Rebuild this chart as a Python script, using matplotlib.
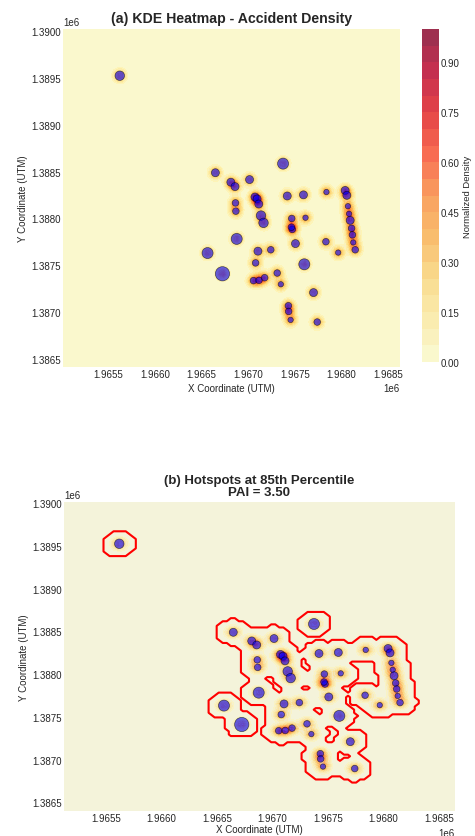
import numpy as np
import matplotlib.pyplot as plt
import seaborn as sns

sns.set_style("dark")
plt.rcParams["font.family"] = ["Liberation Sans", "DejaVu Sans"]

# accident locations (UTM metres)
acc_x = [1966647, 1966813, 1966858, 1967014, 1967374, 1967419, 1967593, 1967840, 1968041, 1968059,
         1966863, 1966867, 1967072, 1967095, 1967113, 1967137, 1967164, 1967467, 1967615, 1967473, 1967464,
         1967507, 1968071, 1968083, 1968095, 1968110, 1968119, 1968128, 1968149, 1967834, 1967966,
         1966876, 1966563, 1966723, 1967104, 1967242, 1967079, 1967602, 1967311, 1967056, 1967115,
         1967176, 1967350,
         1967701, 1967431, 1967434, 1967455, 1967741, 1965620]
acc_y = [1388488, 1388387, 1388340, 1388415, 1388585, 1388240, 1388252, 1388282, 1388299, 1388247,
         1388166, 1388078, 1388229, 1388209, 1388154, 1388031, 1387953, 1388000, 1388008, 1387883, 1387907,
         1387732, 1388131, 1388050, 1387980, 1387895, 1387825, 1387744, 1387666, 1387752, 1387636,
         1387782, 1387631, 1387410, 1387651, 1387666, 1387526, 1387511, 1387418, 1387337, 1387340,
         1387368, 1387298,
         1387209, 1387069, 1387008, 1386918, 1386895, 1389523]
severity = [2, 2, 2, 2, 3, 2, 2, 1, 2, 2,
            1.5, 1.5, 2, 2, 2, 2.5, 2.5, 1.5, 1, 1.5, 1.5,
            2, 1, 1, 2, 1.5, 1.5, 1, 1.5, 1.5, 1,
            3, 3, 4, 2, 1.5, 1.5, 3, 1.5, 1.5, 1.5, 1.5, 1,
            2, 1.5, 1.5, 1, 1.5, 2.5]

HOTSPOT_PCT = 85
PAI = 3.50

xlim_a = (1965010, 1968630)
ylim_a = (1386415, 1390021)
xlim_b = (1965122, 1968644)
ylim_b = (1386395, 1390012)

px = np.array(acc_x, dtype=float)
py = np.array(acc_y, dtype=float)
sizes = 6 * np.array(severity) ** 2 + 9

# gaussian KDE on a fairly coarse grid
bw = 40.0
gx = np.linspace(1964950, 1968700, 104)
gy = np.linspace(1386350, 1390050, 103)
GX, GY = np.meshgrid(gx, gy)
dens = np.exp(-((GX[None] - px[:, None, None]) ** 2 + (GY[None] - py[:, None, None]) ** 2)
              / (2 * bw ** 2)).sum(axis=0)
dens = dens / dens.max()
thr = np.percentile(dens, HOTSPOT_PCT)
hot = (dens >= thr).astype(float)

fig = plt.figure(figsize=(4.75, 8.37), dpi=100)
ax1 = fig.add_axes([0.1326, 0.5603, 0.7095, 0.4038])
cax = fig.add_axes([0.8884, 0.5663, 0.0358, 0.3978])
ax2 = fig.add_axes([0.1347, 0.0295, 0.8232, 0.3696])

# (a) KDE heatmap
cf = ax1.contourf(GX, GY, dens, levels=20, cmap="YlOrRd", alpha=0.8)
ax1.scatter(px, py, s=sizes, c="blue", alpha=0.6, edgecolors="black", linewidths=0.5, zorder=3)
ax1.set_xlim(*xlim_a)
ax1.set_ylim(*ylim_a)
ax1.set_title("(a) KDE Heatmap - Accident Density", fontsize=10.2, fontweight="bold", pad=5)
ax1.set_xlabel("X Coordinate (UTM)", fontsize=7, labelpad=3)
cb = fig.colorbar(cf, cax=cax)
cb.set_label("Normalized Density", fontsize=6.8, labelpad=2)
cb.outline.set_visible(False)
cb.ax.tick_params(labelsize=7, pad=1.5, length=0)

# (b) hotspots
ax2.contourf(GX, GY, dens, levels=20, cmap="YlOrRd", alpha=0.5)
ax2.contour(GX, GY, hot, levels=[0.5], colors="red", linewidths=1.5)
ax2.scatter(px, py, s=sizes, c="blue", alpha=0.6, edgecolors="black", linewidths=0.5, zorder=3)
ax2.set_xlim(*xlim_b)
ax2.set_ylim(*ylim_b)
ax2.set_title(f"(b) Hotspots at {HOTSPOT_PCT}th Percentile\nPAI = {PAI:.2f}",
              fontsize=9.5, fontweight="bold", pad=5, linespacing=1.0)
ax2.set_xlabel("X Coordinate (UTM)", fontsize=7, labelpad=0.5)

for ax in (ax1, ax2):
    ax.set_ylabel("Y Coordinate (UTM)", fontsize=7, labelpad=2)
    ax.tick_params(labelsize=7, pad=1.5, length=0)
    ax.xaxis.get_offset_text().set_fontsize(7)
    ax.yaxis.get_offset_text().set_fontsize(7)
    for s in ax.spines.values():
        s.set_visible(False)

fig.savefig("out.png", dpi=100)
